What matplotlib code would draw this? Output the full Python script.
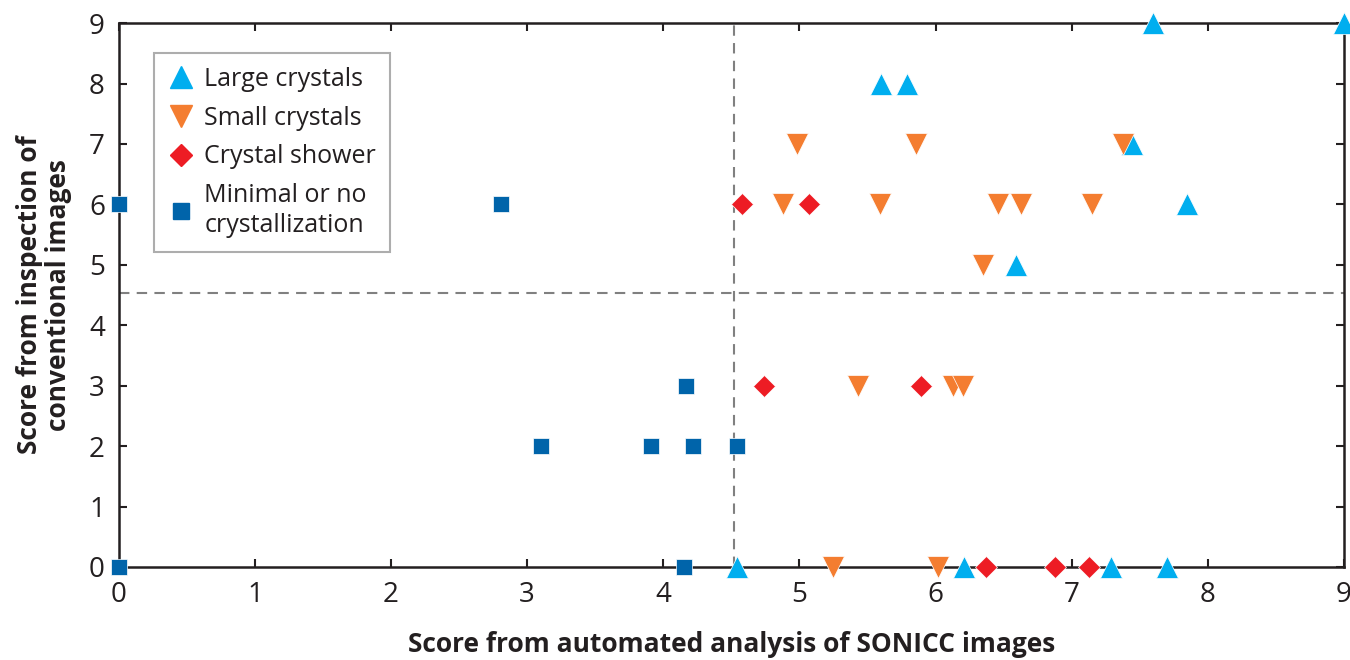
import matplotlib
matplotlib.use("Agg")
import matplotlib.pyplot as plt
from matplotlib.lines import Line2D

plt.rcParams['font.family'] = ['Open Sans', 'DejaVu Sans']

large_x = [7.60, 9.00, 5.60, 5.79, 7.44, 7.85, 6.59, 4.54, 6.21, 7.29, 7.70]
large_y = [9, 9, 8, 8, 7, 6, 5, 0, 0, 0, 0]

small_x = [4.98, 5.86, 7.38, 4.88, 5.59, 6.46, 6.63, 7.15, 6.35, 5.43, 6.13, 6.20, 5.25, 6.02]
small_y = [7, 7, 7, 6, 6, 6, 6, 6, 5, 3, 3, 3, 0, 0]

shower_x = [4.58, 5.07, 4.74, 5.89, 6.37, 6.88, 7.13]
shower_y = [6, 6, 3, 3, 0, 0, 0]

minimal_x = [0.00, 2.81, 4.17, 3.10, 3.91, 4.22, 4.54, 0.00, 4.15]
minimal_y = [6, 6, 3, 2, 2, 2, 2, 0, 0]

threshold_x = 4.52
threshold_y = 4.53

xticks = list(range(0, 10))
yticks = list(range(0, 10))

labels = ["Large crystals", "Small crystals", "Crystal shower", "Minimal or no\ncrystallization"]
colors = ["#00AEEF", "#F47D30", "#ED1C24", "#0064AA"]

fig = plt.figure(figsize=(13.5, 6.6), dpi=100)
ax = fig.add_axes([0.088, 0.141, 0.9075, 0.824])

ax.axvline(threshold_x, color="#808080", lw=1.5, ls=(0, (5, 3.5)), zorder=1)
ax.axhline(threshold_y, color="#808080", lw=1.5, ls=(0, (5, 3.5)), zorder=1)

ax.plot(large_x, large_y, ls='none', marker='^', ms=16, color=colors[0], mec='white', mew=0.5, clip_on=False, zorder=5)
ax.plot(small_x, small_y, ls='none', marker='v', ms=16, color=colors[1], mec='white', mew=0.5, clip_on=False, zorder=5)
ax.plot(shower_x, shower_y, ls='none', marker='D', ms=11.5, color=colors[2], mec='white', mew=0.5, clip_on=False, zorder=5)
ax.plot(minimal_x, minimal_y, ls='none', marker='s', ms=11.5, color=colors[3], mec='white', mew=0.5, clip_on=False, zorder=5)

ax.set_xlim(0, 9)
ax.set_ylim(0, 9)
ax.set_xticks(xticks)
ax.set_yticks(yticks)
ax.tick_params(direction='in', length=6, width=1.5, top=True, right=True,
               labelsize=20, colors='#231F20', pad=10)
for s in ax.spines.values():
    s.set_linewidth(1.8)
    s.set_color('#231F20')

ax.set_xlabel("Score from automated analysis of SONICC images", fontsize=19, fontweight='bold', labelpad=16, color='#231F20')
ax.set_ylabel("Score from inspection of\nconventional images", fontsize=19, fontweight='bold', labelpad=12, color='#231F20', linespacing=1.1)

handles = [
    Line2D([], [], ls='none', marker='^', ms=16, color=colors[0]),
    Line2D([], [], ls='none', marker='v', ms=16, color=colors[1]),
    Line2D([], [], ls='none', marker='D', ms=11.5, color=colors[2]),
    Line2D([], [], ls='none', marker='s', ms=11.5, color=colors[3]),
]
leg = ax.legend(handles, labels, loc='upper left', bbox_to_anchor=(0.029, 0.945),
                borderaxespad=0, fontsize=18, frameon=True, fancybox=False, edgecolor='#999999',
                handlelength=1.0, handletextpad=0.45, borderpad=0.55, labelspacing=0.55)
leg.get_frame().set_linewidth(1.5)
for t in leg.get_texts():
    t.set_linespacing(1.25)
    t.set_color('#231F20')

fig.savefig("out.png", dpi=100)
